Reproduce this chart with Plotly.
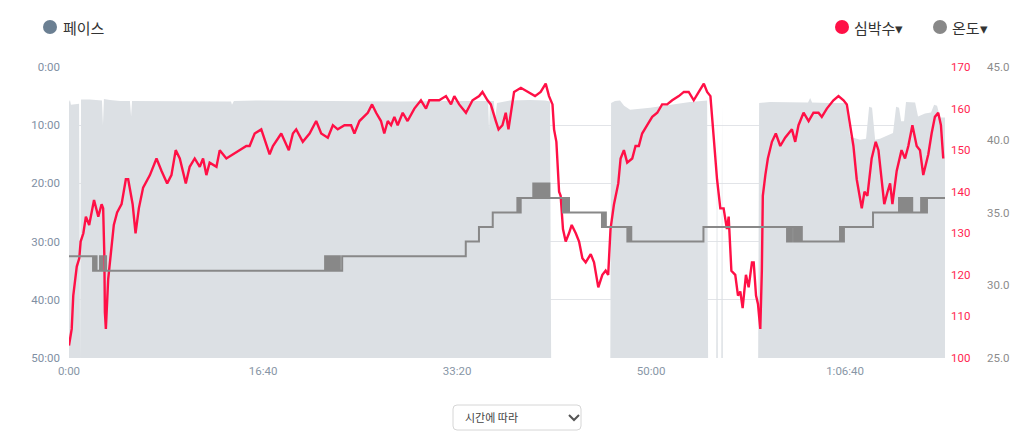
import plotly.graph_objects as go

FONT = "Roboto, 'Noto Sans CJK KR', sans-serif"
KR = "'Noto Sans CJK KR', 'Noto Sans', sans-serif"

# x axis ticks (elapsed seconds)
x_tickvals = [0, 1000, 2000, 3000, 4000]
x_ticktext = ["0:00", "16:40", "33:20", "50:00", "1:06:40"]

# pace axis ticks (seconds per km, reversed)
pace_tickvals = [0, 600, 1200, 1800, 2400, 3000]
pace_ticktext = ["0:00", "10:00", "20:00", "30:00", "40:00", "50:00"]

# pace (sec), None = no pace recorded
pace_t = [0, 5, 10, 31, 52, 57, 62, 108, 160, 170, 175, 180, 211, 263, 314, 320, 325,
          418, 572, 675, 835, 840, 850, 985, 1191, 1448, 1706, 1964, 2160, 2165, 2170,
          2190, 2196, 2206,
          2273, 2376, 2454, 2479, 2485, 2790, 2794, 2814, 2840, 2861, 2892, 2995, 3098,
          3201, 3289, 3294, 3336, 3340, 3344, 3362, 3366, 3370, 3552, 3557, 3613, 3716,
          3809, 3820, 3830, 3923, 4005, 4026, 4077, 4108, 4124, 4139, 4155, 4180, 4222,
          4247, 4263, 4278, 4289, 4304, 4314, 4361, 4376, 4412, 4443, 4459, 4474, 4490, 4515]
pace_v = [360, 340, 390, 385, 380, None, 335, 335, 340, 345, 600, 330, 340, 350, 350, 510, 350,
          350, 355, 355, 355, 390, 350, 345, 350, 355, 355, 350, 350, 650, 350,
          350, 545, 370,
          345, 340, 345, 355, None, None, 370, 350, 345, 400, 440, 420, 390,
          360, 345, None, None, 360, None, None, 360, None, None, 370, 360, 365,
          365, 320, 365, 370, 370, 720, 750, 740, 410, 420, 750, 740, 700,
          680, 410, 420, 560, 560, 360, 365, 510, 480, 470, 390, 400, 520, 520]

# heart rate (bpm)
hr_t = [0, 14, 22, 40, 53, 60, 74, 87, 104, 129, 151, 168, 176, 182, 185, 190, 202, 214, 231,
        248, 271, 293, 305, 328, 343, 360, 382, 417, 451, 477, 506, 528, 550, 571, 602, 622,
        648, 674, 691, 708, 725, 760, 777, 811, 845, 880, 914, 931, 957, 991, 1034, 1051,
        1077, 1094, 1133, 1154, 1171, 1205, 1240, 1274, 1300, 1334, 1360, 1385, 1420, 1454,
        1471, 1497, 1540, 1562, 1583, 1608, 1625, 1643, 1660, 1677, 1694, 1720, 1745, 1780,
        1814, 1840, 1857, 1908, 1943, 1969, 1986, 2011, 2046, 2080, 2114, 2131, 2157, 2174,
        2200, 2214, 2234, 2251, 2265, 2294, 2329, 2363, 2402, 2431, 2457, 2474, 2492, 2500,
        2512, 2526, 2534, 2546, 2560, 2577, 2591, 2612, 2629, 2646, 2663, 2689, 2706, 2728,
        2749, 2766, 2779, 2791, 2809, 2831, 2843, 2860, 2877, 2903, 2920, 2937, 2954, 2980,
        3006, 3032, 3057, 3083, 3109, 3143, 3169, 3194, 3220, 3246, 3272, 3289, 3306, 3323,
        3340, 3357, 3374, 3391, 3400, 3414, 3434, 3448, 3460, 3472, 3489, 3503, 3520, 3529,
        3541, 3551, 3563, 3571, 3576, 3589, 3602, 3623, 3643, 3666, 3691, 3726, 3743, 3760,
        3786, 3812, 3837, 3863, 3880, 3906, 3940, 3966, 3992, 4009, 4026, 4043, 4060, 4086,
        4100, 4115, 4137, 4158, 4172, 4202, 4219, 4232, 4244, 4266, 4291, 4309, 4326, 4347,
        4369, 4386, 4403, 4429, 4446, 4463, 4480, 4494, 4506]
hr_v = [103, 107, 115, 122, 124, 128, 130, 134, 132, 138, 134, 137, 136, 125, 111, 107, 119, 125, 132,
        135, 137, 143, 143, 137, 130, 136, 141, 144, 148, 145, 142, 144, 150, 148, 142, 146,
        148, 146, 148, 144, 147, 146, 150, 148, 149, 150, 151, 151, 154, 155, 149, 151,
        153, 154, 150, 154, 155, 152, 154, 157, 154, 153, 156, 155, 156, 156,
        154, 157, 159, 161, 159, 157, 154, 157, 156, 158, 156, 159, 157, 160,
        162, 160, 162, 162, 163, 161, 163, 161, 159, 162, 163, 164, 162, 161,
        157, 155, 156, 159, 155, 164, 165, 164, 163, 164, 166, 163, 161, 155,
        152, 140, 139, 131, 128, 130, 132, 130, 128, 124, 123, 125, 123, 117,
        120, 121, 120, 131, 137, 142, 148, 150, 147, 148, 151, 151, 154, 156,
        158, 159, 161, 161, 162, 163, 164, 164, 162, 164, 166, 164, 163, 153,
        143, 136, 136, 131, 134, 121, 120, 115, 116, 112, 120, 117, 123, 123,
        115, 113, 107, 121, 139, 144, 148, 152, 154, 151, 153, 155, 152, 156,
        159, 157, 159, 159, 158, 160, 162, 163, 162, 161, 156, 151, 143, 136,
        140, 139, 148, 152, 150, 137, 140, 142, 137, 145, 150, 148, 151, 156,
        151, 150, 144, 149, 154, 158, 159, 156, 148]

# temperature (°C), stepped
temp_t = [0, 124, 128, 133, 137, 142, 160, 164, 168, 172, 186, 191,
          1320, 1327, 1334, 1341, 1348, 1355, 1362, 1369, 1376, 1383, 1390, 1396, 1408,
          2045, 2113, 2184, 2311, 2316, 2321, 2325, 2328,
          2393, 2398, 2408, 2413, 2420, 2425, 2430, 2436, 2441, 2446, 2451, 2456, 2461, 2466,
          2471, 2476, 2483,
          2546, 2551, 2556, 2561, 2566, 2572, 2577,
          2747, 2752, 2757, 2762, 2767,
          2878, 2883, 2888, 2893, 2898,
          3270,
          3701, 3706, 3711, 3716, 3721, 3726, 3737, 3742, 3747, 3752, 3757, 3762, 3767,
          3772, 3777,
          3974, 3979, 3984, 3989, 3994,
          4144,
          4278, 4283, 4288, 4293, 4298, 4303, 4307, 4316, 4321, 4326, 4331, 4336, 4341,
          4346, 4392, 4397, 4402, 4407, 4412, 4417, 4422, 4515]
temp_v = [32, 31, 32, 31, 32, 31, 32, 31, 32, 31, 32, 31,
          32, 31, 32, 31, 32, 31, 32, 31, 32, 31, 32, 31, 32,
          33, 34, 35, 36, 35, 36, 35, 36,
          37, 36, 37, 36, 37, 36, 37, 36, 37, 36, 37, 36, 37, 36,
          37, 36, 36,
          35, 36, 35, 36, 35, 36, 35,
          34, 35, 34, 35, 34,
          33, 34, 33, 34, 33,
          34,
          33, 34, 33, 34, 33, 34, 33, 34, 33, 34, 33, 34, 33,
          34, 33,
          34, 33, 34, 33, 34,
          35,
          36, 35, 36, 35, 36, 35, 36, 35, 36, 35, 36, 35, 36,
          35, 36, 35, 36, 35, 36, 35, 36, 36]

PACE_BASE = 3000  # 50:00, bottom of reversed pace axis
pace_fill = [PACE_BASE if v is None else v for v in pace_v]

fig = go.Figure()

fig.add_trace(go.Scatter(
    x=pace_t, y=[PACE_BASE] * len(pace_t), mode="lines",
    line=dict(width=0), hoverinfo="skip", showlegend=False, yaxis="y",
))
fig.add_trace(go.Scatter(
    x=pace_t, y=pace_fill, mode="lines", fill="tonexty",
    fillcolor="#dce0e4", line=dict(width=0, color="#dce0e4"),
    name="페이스", showlegend=False, yaxis="y",
))
fig.add_trace(go.Scatter(
    x=temp_t, y=temp_v, mode="lines", line=dict(color="#888888", width=2, shape="hv"),
    name="온도", showlegend=False, yaxis="y3",
))
fig.add_trace(go.Scatter(
    x=hr_t, y=hr_v, mode="lines", line=dict(color="#ff1046", width=2.4),
    name="심박수", showlegend=False, yaxis="y2",
))

# the page body adds an 8px offset, so the figure is 8px smaller and margins shifted
OFF = 8
W, H = 1024 - OFF, 445 - OFF
L, T, R, B = 69 - OFF, 67 - OFF, 40, 87
PW = W - L - R  # paper width in px
PH = H - T - B


def px_x(px):
    # screen x -> paper fraction
    return (px - 69) / PW


def px_y(py):
    # screen y -> paper fraction
    return (358 - py) / PH


fig.update_layout(
    width=W, height=H,
    margin=dict(l=L, r=R, t=T, b=B),
    paper_bgcolor="white", plot_bgcolor="white",
    font=dict(family=FONT, size=11, color="#8a97a8"),
    showlegend=False,
    xaxis=dict(
        domain=[0, 876 / PW], range=[0, 4515],
        tickvals=x_tickvals, ticktext=x_ticktext,
        showgrid=False, zeroline=False, showline=False,
        tickfont=dict(size=11.5, color="#8896a6"), ticklabelstandoff=4,
    ),
    yaxis=dict(
        range=[PACE_BASE, 0], tickvals=pace_tickvals, ticktext=pace_ticktext,
        showgrid=True, gridcolor="#e2e4e8", gridwidth=1, zeroline=False,
        tickfont=dict(size=11.5, color="#7f8fa3"), ticklabelstandoff=8,
    ),
    yaxis2=dict(
        overlaying="y", side="right", anchor="x", range=[100, 170],
        tickvals=[100, 110, 120, 130, 140, 150, 160, 170],
        showgrid=False, zeroline=False,
        tickfont=dict(size=11.5, color="#ff1f50"), ticklabelstandoff=5,
    ),
    yaxis3=dict(
        overlaying="y", side="right", anchor="free", position=1.0, range=[25, 45],
        tickvals=[25, 30, 35, 40, 45], tickformat=".1f",
        showgrid=False, zeroline=False, showline=False,
        tickfont=dict(size=11.5, color="#8c8c8c"), ticklabelstandoff=2,
    ),
)

# legend-like header
legend_items = [
    (50, 61, "#6b7f92", "페이스"),
    (842, 852, "#ff1046", "심박수▾"),
    (940, 950, "#888888", "온도▾"),
]
for cx, tx, col, label in legend_items:
    fig.add_shape(type="circle", xref="paper", yref="paper",
                  x0=px_x(cx - 7), x1=px_x(cx + 7), y0=px_y(34), y1=px_y(20),
                  fillcolor=col, line=dict(width=0))
    fig.add_annotation(xref="paper", yref="paper", x=px_x(tx), y=px_y(27),
                       xanchor="left", yanchor="middle", showarrow=False,
                       text=label, font=dict(family=KR, size=15, color="#333333"))

# dropdown box under the chart
x0, x1, y0, y1, r = 453, 581, 405, 430, 4
rx, ry = r / PW, r / PH
X0, X1, Y0, Y1 = px_x(x0), px_x(x1), px_y(y1), px_y(y0)
box = (f"M {X0 + rx},{Y1} L {X1 - rx},{Y1} Q {X1},{Y1} {X1},{Y1 - ry} "
       f"L {X1},{Y0 + ry} Q {X1},{Y0} {X1 - rx},{Y0} L {X0 + rx},{Y0} "
       f"Q {X0},{Y0} {X0},{Y0 + ry} L {X0},{Y1 - ry} Q {X0},{Y1} {X0 + rx},{Y1} Z")
fig.add_shape(type="path", xref="paper", yref="paper", path=box,
              fillcolor="white", line=dict(color="#d6d6d6", width=1))
chev = f"M {px_x(569)},{px_y(415)} L {px_x(574)},{px_y(420)} L {px_x(579)},{px_y(415)}"
fig.add_shape(type="path", xref="paper", yref="paper", path=chev,
              line=dict(color="#555555", width=2))
fig.add_annotation(xref="paper", yref="paper", x=px_x(463), y=px_y(417),
                   xanchor="left", yanchor="middle", showarrow=False,
                   text="시간에 따라", font=dict(family=KR, size=11, color="#444444"))

fig.write_html("out.html")
